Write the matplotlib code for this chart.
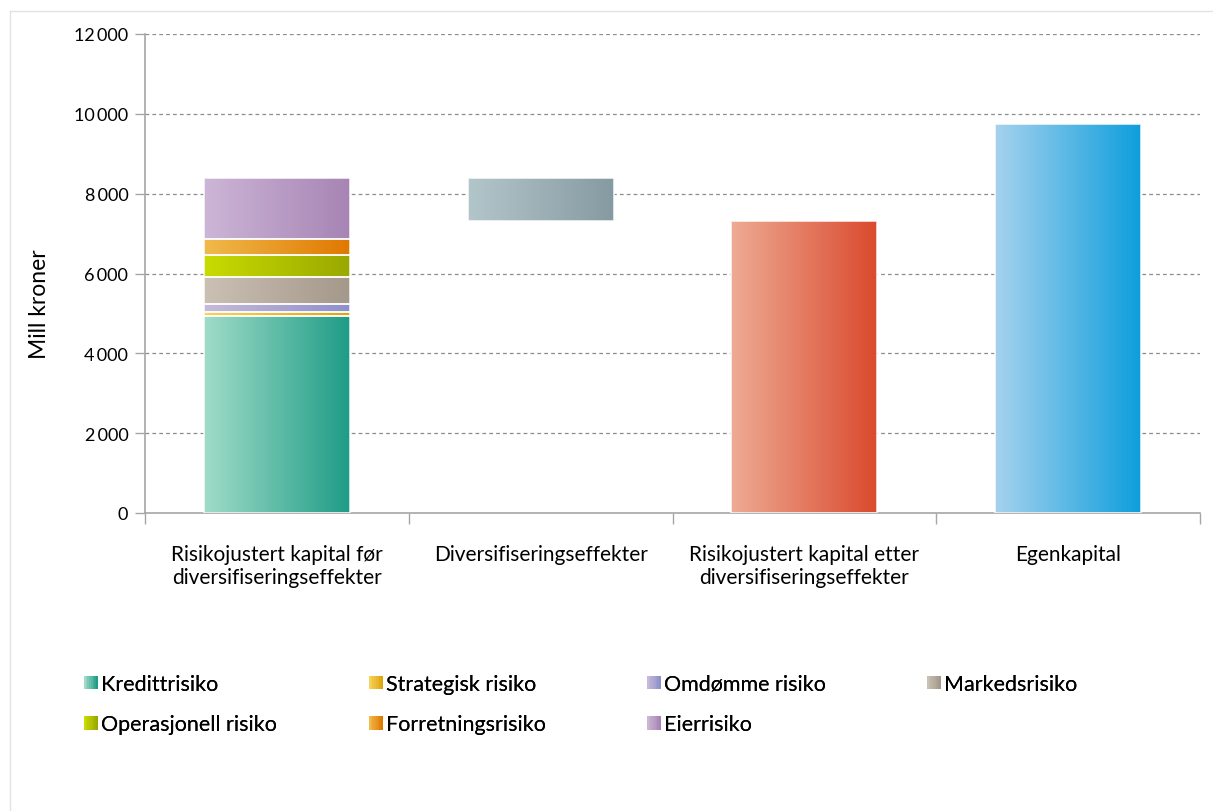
import numpy as np
import matplotlib
matplotlib.use("Agg")
import matplotlib.pyplot as plt
from matplotlib.colors import LinearSegmentedColormap
from matplotlib.patches import Rectangle
from matplotlib.legend_handler import HandlerBase
from matplotlib.lines import Line2D
from matplotlib.ticker import FuncFormatter

plt.rcParams['font.family'] = ['Lato', 'DejaVu Sans']

# Data (mill kroner)
categories = ['Risikojustert kapital før\ndiversifiseringseffekter',
              'Diversifiseringseffekter',
              'Risikojustert kapital etter\ndiversifiseringseffekter',
              'Egenkapital']
risk_names = ['Kredittrisiko', 'Strategisk risiko', 'Omdømme risiko', 'Markedsrisiko',
              'Operasjonell risiko', 'Forretningsrisiko', 'Eierrisiko']
risk_values = [4940, 100, 190, 690, 550, 390, 1530]
capital_after = 7320
equity = 9740

# Gradient colours (left, right)
risk_colors = [('#a0dcc8', '#1f9c86'),
               ('#f6d35a', '#dea60e'),
               ('#c6bad8', '#8e90cc'),
               ('#cac0b4', '#a4988a'),
               ('#c8dc00', '#9aa800'),
               ('#f0ba4c', '#e07800'),
               ('#ccb6d6', '#a784b4')]
div_color = ('#b2c6ca', '#869aa2')
after_color = ('#eeab94', '#da4a2e')
equity_color = ('#a6d2ee', '#0e9edc')

total_before = sum(risk_values)
diversification = total_before - capital_after

fig = plt.figure(figsize=(12.13, 8.12), dpi=100)
W, H = 1213, 812
ax = fig.add_axes([145 / W, 1 - 514 / H, (1200 - 145) / W, (514 - 35) / H])

# faint outer frame
fig.add_artist(Line2D([10 / W, 1.0], [1 - 12 / H] * 2, color='#e2e2e2', lw=1))
fig.add_artist(Line2D([10 / W] * 2, [0, 1 - 12 / H], color='#e2e2e2', lw=1))

grad = np.linspace(0, 1, 256).reshape(1, -1)
width = 0.553


def fill_gradient(patch, cols):
    cmap = LinearSegmentedColormap.from_list('g', list(cols))
    x0, y0 = patch.get_x(), patch.get_y()
    w, h = patch.get_width(), patch.get_height()
    im = ax.imshow(grad, cmap=cmap, aspect='auto', extent=(x0, x0 + w, y0, y0 + h),
                   zorder=2, interpolation='bicubic')
    im.set_clip_path(patch)
    ax.add_patch(Rectangle((x0, y0), w, h, fill=False, edgecolor='white',
                           lw=1.3, alpha=0.8, zorder=3))


# stacked risk bar
bottom = 0
for val, cols in zip(risk_values, risk_colors):
    bar = ax.bar(0, val, width, bottom=bottom, color='none', zorder=2)[0]
    fill_gradient(bar, cols)
    bottom += val

bar = ax.bar(1, diversification, width, bottom=capital_after, color='none', zorder=2)[0]
fill_gradient(bar, div_color)
bar = ax.bar(2, capital_after, width, color='none', zorder=2)[0]
fill_gradient(bar, after_color)
bar = ax.bar(3, equity, width, color='none', zorder=2)[0]
fill_gradient(bar, equity_color)

ax.set_xlim(-0.5, 3.5)
ax.set_ylim(0, 12000)
ax.set_yticks(np.arange(0, 12001, 2000))
ax.yaxis.set_major_formatter(FuncFormatter(lambda v, p: f'{int(v):,}'.replace(',', '\u2009')))
ax.set_xticks(range(4))
ax.set_xticklabels(categories, fontsize=15, linespacing=1.2)
ax.set_xticks(np.arange(-0.5, 3.6, 1), minor=True)
ax.tick_params(axis='x', which='major', length=0, pad=22)
ax.tick_params(axis='x', which='minor', length=8, color='#a6a6a6', width=1)
ax.tick_params(axis='y', length=7, color='#a6a6a6', width=1, labelsize=13, pad=5)

for s in ['top', 'right']:
    ax.spines[s].set_visible(False)
for s in ['left', 'bottom']:
    ax.spines[s].set_color('#a6a6a6')
    ax.spines[s].set_linewidth(1.2)

for y in range(2000, 12001, 2000):
    ax.axhline(y, color='#8c8c8c', lw=0.9, ls=(0, (3, 2.5)), zorder=1)

fig.text(40 / W, 1 - 304 / H, 'Mill kroner', rotation=90, fontsize=16.5,
         ha='center', va='center')


# gradient legend keys
class GradientHandler(HandlerBase):
    def create_artists(self, legend, orig_handle, xdescent, ydescent, width, height,
                       fontsize, trans):
        c0, c1 = orig_handle.cols
        cmap = LinearSegmentedColormap.from_list('k', [c0, c1])
        n = 8
        side = 10
        x0 = -xdescent
        y0 = -ydescent + (height - side) / 2
        arts = []
        for i in range(n):
            r = Rectangle((x0 + i * side / n, y0), side / n + 0.05, side,
                          facecolor=cmap(i / (n - 1)), edgecolor='none', transform=trans)
            arts.append(r)
        return arts


class Key:
    def __init__(self, cols):
        self.cols = cols


columns = [[0, 4], [1, 5], [2, 6], [3]]
col_x = [84, 369, 647, 927]
for xs, idx in zip(col_x, columns):
    leg = fig.legend([Key(risk_colors[i]) for i in idx], [risk_names[i] for i in idx],
                     handler_map={Key: GradientHandler()}, loc='upper left',
                     bbox_to_anchor=(xs / W, 1 - 675 / H), frameon=False,
                     fontsize=15.5, handlelength=0.5, handletextpad=0.3,
                     labelspacing=0.95, borderaxespad=0, borderpad=0)
    fig.add_artist(leg)

fig.savefig('out.png', dpi=100)
